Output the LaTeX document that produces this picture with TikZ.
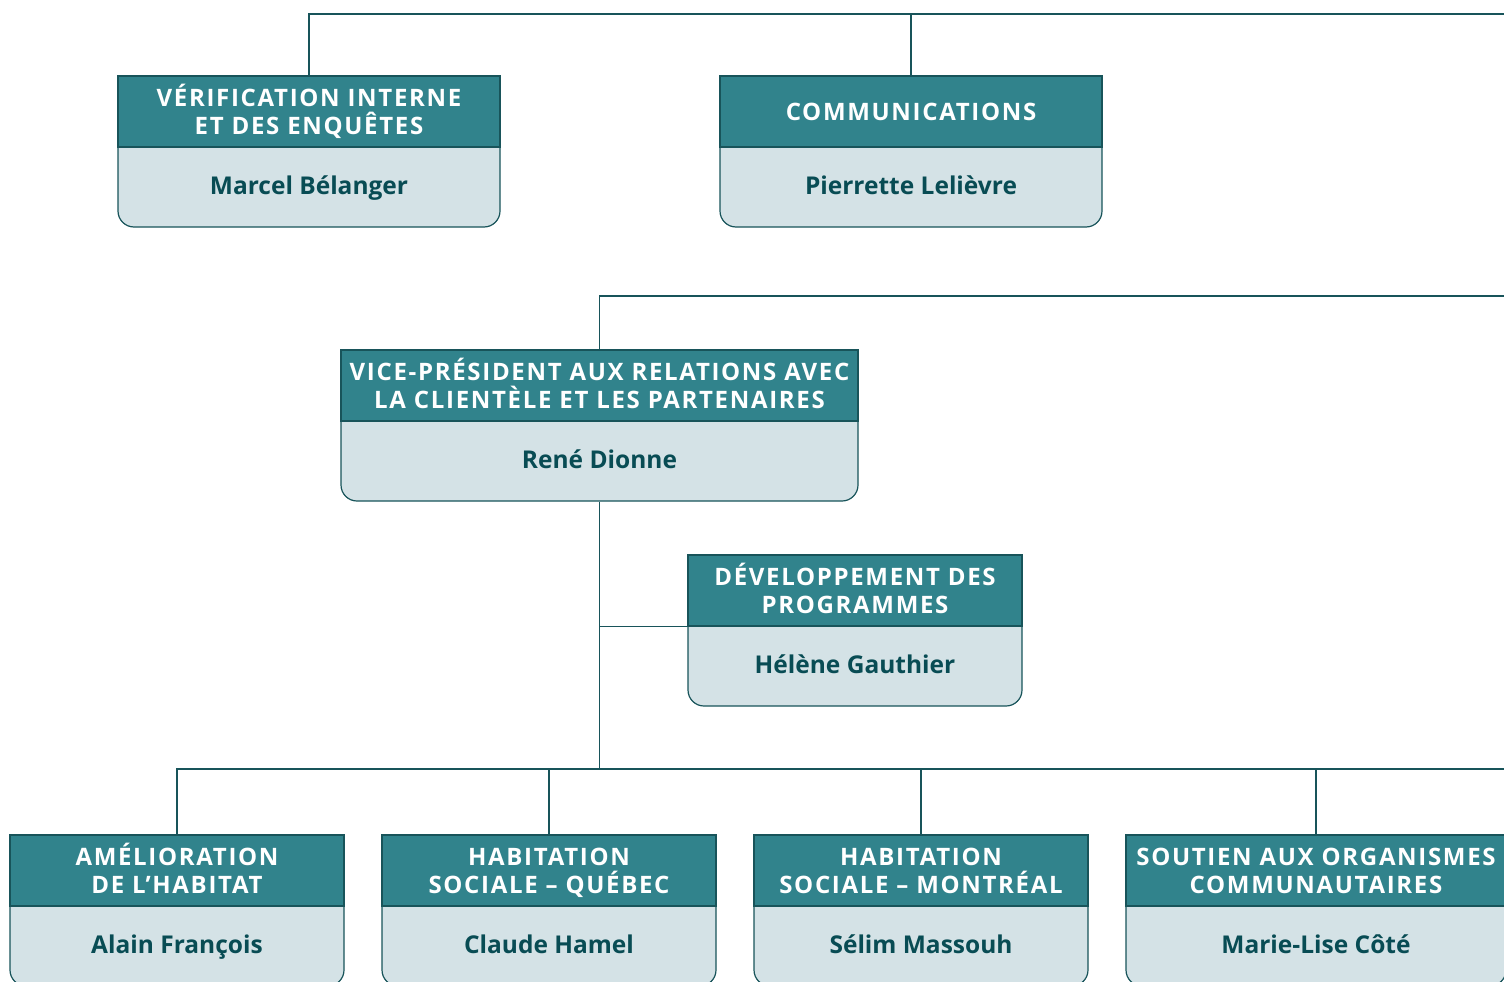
\documentclass[tikz,border=0pt]{standalone}
\usepackage{fontspec}
\setmainfont{Open Sans}
\newfontfamily\headfont[LetterSpace=7]{Open Sans}
\usetikzlibrary{positioning}

\definecolor{headteal}{RGB}{49,131,140}
\definecolor{bodygrey}{RGB}{212,226,230}
\definecolor{edgeteal}{RGB}{24,84,90}
\definecolor{nameteal}{RGB}{8,76,84}

% same height for every title line
\newcommand{\hl}{\vphantom{ÉQ}}

\tikzset{
  headbox/.style={rectangle, fill=headteal, draw=edgeteal, line width=1.2pt,
    minimum height=71, inner sep=0pt, text=white, align=center,
    font=\headfont\bfseries\fontsize{24}{28}\selectfont},
  bodybox/.style={fill=bodygrey, draw=edgeteal, line width=1.2pt, rounded corners=16pt},
  person/.style={text=nameteal, inner sep=0pt, anchor=base,
    font=\bfseries\fontsize{24.5}{28}\selectfont},
  link/.style={draw=edgeteal, line width=1.4pt}
}

% unit box: name, centre x, top y, width, title, person
\newcommand{\orgunit}[6]{%
  \path[bodybox] (#2-#4/2,#3+71) -- ++(0,80) -- ++(#4,0) -- ++(0,-80);
  \node[headbox, minimum width=#4] (#1) at (#2,#3+35.5) {#5};
  \node[person] (#1-p) at ([yshift=-47pt]#1.south) {#6};
  \coordinate (#1-b) at ([yshift=-80pt]#1.south);
}

\begin{document}
\begin{tikzpicture}[x=1pt,y=-1pt]
  \useasboundingbox (0,0) rectangle (1504,982);
  \clip (0,0) rectangle (1504,982);

  % right ends of the lines
  \coordinate (topright) at (1504,14);
  \coordinate (vpright) at (1504,296);
  \coordinate (bus) at (1504,769);

  % top row
  \orgunit{verif}{309}{76}{382}{\hl VÉRIFICATION INTERNE\\\hl ET DES ENQUÊTES}{Marcel Bélanger}
  \orgunit{comm}{911}{76}{382}{\hl COMMUNICATIONS}{Pierrette Lelièvre}

  % vice-president
  \orgunit{vp}{599.5}{350}{517}{\hl VICE-PRÉSIDENT AUX RELATIONS AVEC\\\hl LA CLIENTÈLE ET LES PARTENAIRES}{René Dionne}
  \orgunit{dev}{855}{555}{334}{\hl DÉVELOPPEMENT DES\\\hl PROGRAMMES}{Hélène Gauthier}

  % bottom row
  \orgunit{amel}{177}{835}{334}{\hl AMÉLIORATION\\\hl DE L’HABITAT}{Alain François}
  \orgunit{habq}{549}{835}{334}{\hl HABITATION\\\hl SOCIALE – QUÉBEC}{Claude Hamel}
  \orgunit{habm}{921}{835}{334}{\hl HABITATION\\\hl SOCIALE – MONTRÉAL}{Sélim Massouh}
  \orgunit{sout}{1316}{835}{380}{\hl SOUTIEN AUX ORGANISMES\\\hl COMMUNAUTAIRES}{Marie-Lise Côté}

  % connectors
  \draw[link] (verif.north) |- (topright);
  \draw[link] (comm.north) -- (comm.north |- topright);
  \draw[link] (vp.north) |- (vpright);
  \draw[link] (vp-b) -- (vp-b |- bus);
  \draw[link] (dev.south west) -- (dev.south west -| vp-b);
  \draw[link] (amel.north) |- (bus);
  \foreach \u in {habq,habm,sout}
    \draw[link] (\u.north) -- (\u.north |- bus);
\end{tikzpicture}
\end{document}
